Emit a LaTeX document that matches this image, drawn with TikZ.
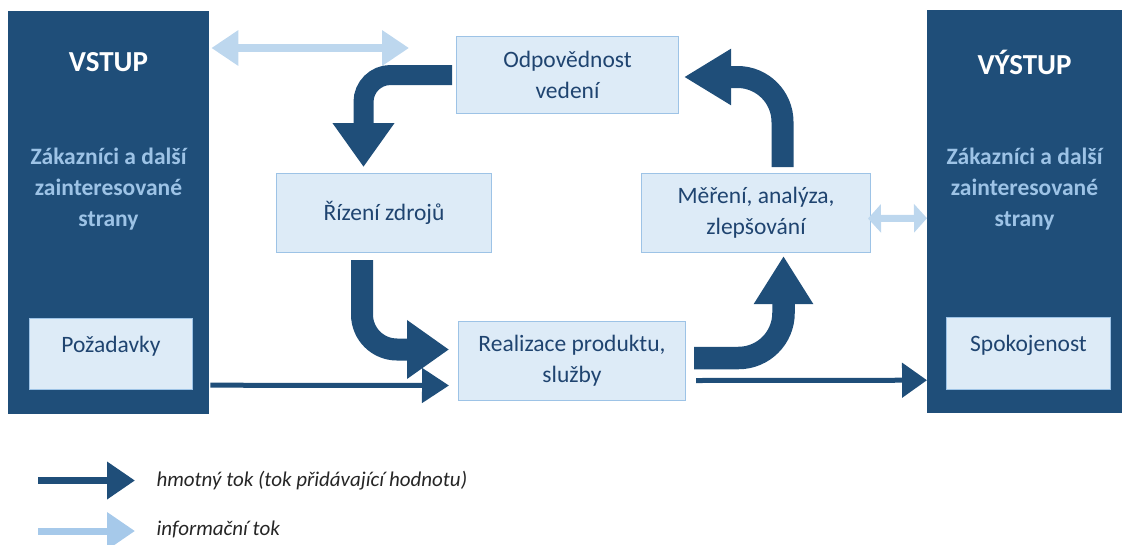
\documentclass[tikz,border=0pt]{standalone}
\usepackage{fontspec}
\setmainfont{Carlito}
\usetikzlibrary{arrows.meta,calc}
\definecolor{dkblue}{HTML}{1F4E79}
\definecolor{boxfill}{HTML}{DDEBF7}
\definecolor{boxline}{HTML}{9DC3E6}
\definecolor{infoblue}{HTML}{BDD7EE}
\definecolor{legblue}{HTML}{A6C9EA}
\definecolor{txtblue}{HTML}{1F4470}
\tikzset{
  darkbox/.style={fill=dkblue, draw=none, anchor=north west, inner sep=0pt},
  lightbox/.style={fill=boxfill, draw=boxline, line width=1pt, anchor=north west, inner sep=0pt,
    align=center, text=txtblue, font=\fontsize{23.5}{31}\selectfont},
  titletext/.style={text=white, font=\bfseries\fontsize{29}{35}\selectfont},
  staketext/.style={text=boxline, align=center, font=\bfseries\fontsize{23.5}{31}\selectfont},
  bigflow/.style={draw=dkblue, line width=#1, rounded corners=30pt},
  infoflow/.style={draw=infoblue},
  legtext/.style={anchor=west, text=black!85, font=\itshape\fontsize{21}{25}\selectfont},
}
\begin{document}
\begin{tikzpicture}[x=1pt,y=-1pt]
\useasboundingbox (0,0) rectangle (1123,544);

% input / output columns
\node[darkbox, minimum width=201pt, minimum height=403pt] (vstup) at (8,11) {};
\node[darkbox, minimum width=195pt, minimum height=403pt] (vys) at (927,10) {};
\node[titletext] (vstupT) at (108.5,62) {VSTUP};
\node[titletext] (vysT) at (1024.5,62) {VÝSTUP};
\node[staketext] (vstupS) at (108.5,189) {Zákazníci a další\\zainteresované\\strany};
\node[staketext] (vysS) at (1024.5,189) {Zákazníci a další\\zainteresované\\strany};
\node[lightbox, minimum width=163pt, text height=34pt, text depth=37pt] (poz) at (29,318) {Požadavky};
\node[lightbox, minimum width=164pt, text height=34pt, text depth=38pt] (spok) at (946,317) {Spokojenost};

% process boxes
\node[lightbox, minimum width=222pt, minimum height=77pt] (odp) at (456,36) {Odpovědnost\\vedení};
\node[lightbox, minimum width=215pt, minimum height=79pt] (rizeni) at (276,173) {Řízení zdrojů};
\node[lightbox, minimum width=229pt, minimum height=79pt] (mer) at (641,173) {Měření, analýza,\\zlepšování};
\node[lightbox, minimum width=227pt, minimum height=79pt] (real) at (458,321) {Realizace produktu,\\služby};

% big value-adding flows
\draw[bigflow=20pt, rounded corners=27pt, -{Triangle[width=59pt,length=44pt]}]
  ($(odp.west)+(-4,0)$) -| ($(rizeni.north)+(-20.5,-6)$);
\draw[bigflow=22pt, rounded corners=35pt, -{Triangle[width=56pt,length=42pt]}]
  ($(rizeni.south)+(-22,7)$) |- ($(real.west)+(-9,-11.5)$);
\draw[bigflow=22.5pt, rounded corners=45pt, -{Triangle[width=56pt,length=48pt]}]
  ($(real.east)+(8,-3)$) -| ($(mer.south)+(27.5,3)$);
\draw[bigflow=22pt, rounded corners=45pt, -{Triangle[width=53pt,length=47pt]}]
  ($(mer.north)+(26.5,-6)$) |- ($(odp.east)+(5,2)$);

% thin material flows
\draw[dkblue, line width=5pt, -{Triangle[width=34pt,length=27pt]}]
  ($(vstup.east)+(1,172.5)$) -- ($(real.west)+(-9,24.5)$);
\draw[dkblue, line width=5pt, -{Triangle[width=34pt,length=25pt]}]
  ($(real.east)+(10,19.5)$) -- ($(vys.west)+(0,168.5)$);

% information flows
\coordinate (infoEnd) at (409,48);
\draw[infoflow, line width=8pt, {Triangle[width=34pt,length=27pt]}-{Triangle[width=34pt,length=27pt]}]
  ($(vstup.north east)+(2,37)$) -- (infoEnd);
\draw[infoflow, line width=7pt, {Triangle[width=28pt,length=13pt]}-{Triangle[width=28pt,length=13pt]}]
  ($(mer.east)+(-3,5.5)$) -- ($(vys.west)+(0,6.5)$);

% legend
\node[legtext] (leg1) at (153,481) {hmotný tok (tok přidávající hodnotu)};
\node[legtext] (leg2) at (153,529) {informační tok};
\coordinate (l1s) at (38,480.5);
\coordinate (l2s) at (38,531);
\draw[dkblue, line width=7pt, -{Triangle[width=36pt,length=28pt]}] (l1s) -- ($(leg1.west)+(-18,-0.5)$);
\draw[legblue, line width=7pt, -{Triangle[width=36pt,length=28pt]}] (l2s) -- ($(leg2.west)+(-18,2)$);
\end{tikzpicture}
\end{document}
